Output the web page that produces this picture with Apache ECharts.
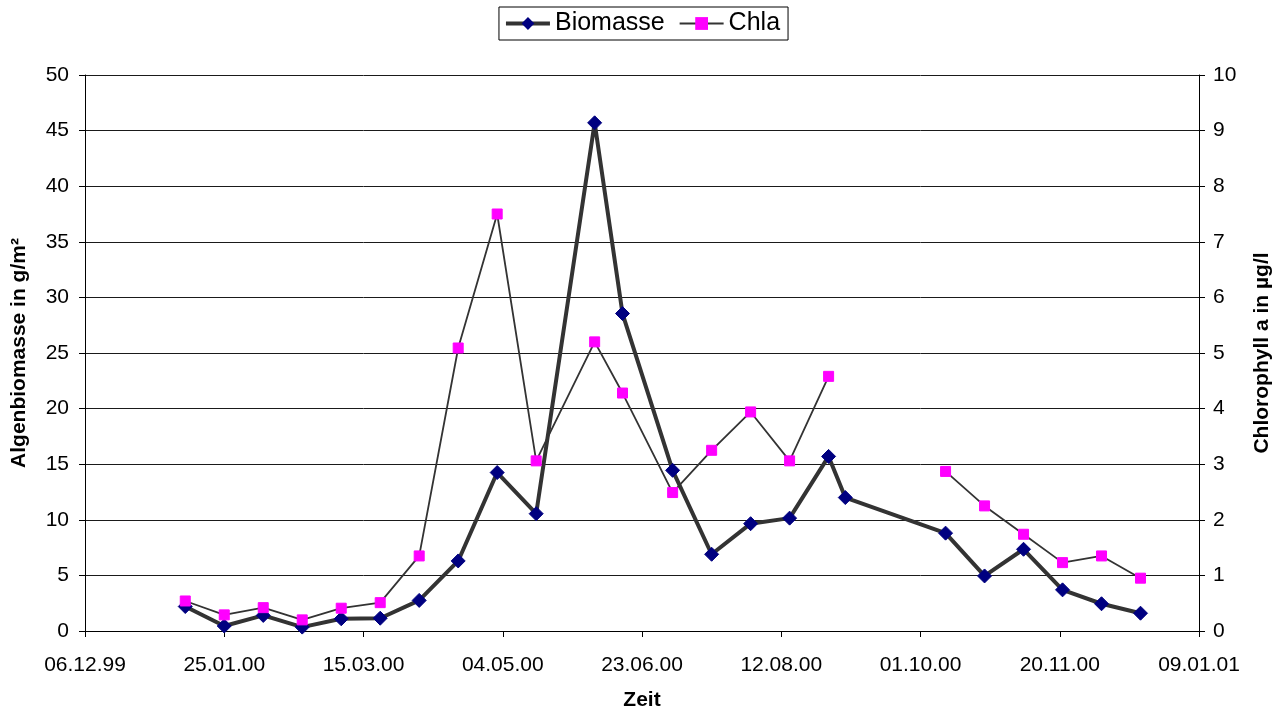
<!DOCTYPE html>
<html>
<head>
<meta charset="utf-8">
<script src="https://cdn.jsdelivr.net/npm/echarts@6/dist/echarts.min.js"></script>
<style>
html,body{margin:0;padding:0;background:#fff;}
#chart{width:1284px;height:713px;}
</style>
</head>
<body>
<div id="chart"></div>
<script>
// Sampling dates
const dates = ['2000-01-11','2000-01-25','2000-02-08','2000-02-22','2000-03-07','2000-03-21',
  '2000-04-04','2000-04-18','2000-05-02','2000-05-16','2000-06-06','2000-06-16',
  '2000-07-04','2000-07-18','2000-08-01','2000-08-15','2000-08-29','2000-09-04',
  '2000-10-10','2000-10-24','2000-11-07','2000-11-21','2000-12-05','2000-12-19'];
// Algenbiomasse in g/m²
const biomasse = [2.2, 0.45, 1.4, 0.35, 1.1, 1.15, 2.75, 6.3, 14.25, 10.55, 45.7, 28.55,
  14.45, 6.9, 9.65, 10.15, 15.7, 12.0, 8.8, 4.95, 7.35, 3.7, 2.45, 1.6];
// Chlorophyll a in µg/l
const chla = [0.54, 0.29, 0.42, 0.2, 0.41, 0.51, 1.35, 5.09, 7.5, 3.06, 5.2, 4.28,
  2.49, 3.25, 3.94, 3.06, 4.58, null, 2.87, 2.25, 1.74, 1.23, 1.35, 0.95];
// x-axis: days counted from 06.12.1999, ticks every 50 days
const axisStart = '1999-12-06';
const axisDays = 400;
const tickStepDays = 50;

const DAY = 86400000;
function toUTC(s){ const p = s.split('-').map(Number); return Date.UTC(p[0], p[1]-1, p[2]); }
const base = toUTC(axisStart);
function dayOf(s){ return Math.round((toUTC(s) - base) / DAY); }
function fmt(d){
  const dt = new Date(base + d * DAY);
  const dd = String(dt.getUTCDate()).padStart(2,'0');
  const mm = String(dt.getUTCMonth()+1).padStart(2,'0');
  const yy = String(dt.getUTCFullYear() % 100).padStart(2,'0');
  return dd + '.' + mm + '.' + yy;
}
const bioData = dates.map((d,i) => [dayOf(d), biomasse[i]]);
const chlaData = dates.map((d,i) => [dayOf(d), chla[i]]);

const font = 'Liberation Sans, Arial, sans-serif';
const tickFont = 21;
const titleFont = 21;
const chart = echarts.init(document.getElementById('chart'), null, {renderer:'canvas'});
chart.setOption({
  animation: false,
  backgroundColor: '#ffffff',
  textStyle: {fontFamily: font, color: '#000'},
  legend: {
    top: 7,
    left: 'center',
    padding: [4, 8, 4, 5],
    borderColor: '#000',
    borderWidth: 1,
    itemWidth: 44,
    itemHeight: 16,
    itemGap: 14,
    textStyle: {fontFamily: font, fontSize: 25, color: '#000'},
    data: [
      {name: 'Biomasse', lineStyle: {color: '#333333', width: 4}, itemStyle: {color: '#000080'}},
      {name: 'Chla', lineStyle: {color: '#333333', width: 1.8}, itemStyle: {color: '#ff00ff'}}
    ]
  },
  grid: {left: 85, right: 85, top: 75, bottom: 82, containLabel: false, outerBoundsMode: 'none'},
  xAxis: {
    type: 'value',
    min: 0, max: axisDays, interval: tickStepDays,
    name: 'Zeit', nameLocation: 'middle', nameGap: 59,
    nameTextStyle: {fontFamily: font, fontSize: titleFont, fontWeight: 'bold', color: '#000'},
    axisLine: {show: true, onZero: false, lineStyle: {color: '#000', width: 1}},
    axisTick: {show: true, inside: false, length: 6, lineStyle: {color: '#000'}},
    axisLabel: {fontFamily: font, fontSize: tickFont, color: '#000', margin: 24, formatter: v => fmt(v)},
    splitLine: {show: false}
  },
  yAxis: [{
    type: 'value', position: 'left',
    min: 0, max: 50, interval: 5,
    name: 'Algenbiomasse in g/m²', nameLocation: 'middle', nameGap: 55, nameRotate: 90,
    nameTextStyle: {fontFamily: font, fontSize: titleFont, fontWeight: 'bold', color: '#000'},
    axisLine: {show: true, lineStyle: {color: '#000', width: 1}},
    axisTick: {show: true, inside: false, length: 6, lineStyle: {color: '#000'}},
    axisLabel: {fontFamily: font, fontSize: tickFont, color: '#000', margin: 16},
    splitLine: {show: true, lineStyle: {color: '#1a1a1a', width: 1}}
  }, {
    type: 'value', position: 'right',
    min: 0, max: 10, interval: 1,
    name: 'Chlorophyll a in µg/l', nameLocation: 'middle', nameGap: 53, nameRotate: 90,
    nameTextStyle: {fontFamily: font, fontSize: titleFont, fontWeight: 'bold', color: '#000'},
    axisLine: {show: true, lineStyle: {color: '#000', width: 1}},
    axisTick: {show: true, inside: false, length: 6, lineStyle: {color: '#000'}},
    axisLabel: {fontFamily: font, fontSize: tickFont, color: '#000', margin: 14},
    splitLine: {show: false}
  }],
  series: [{
    name: 'Biomasse', type: 'line', yAxisIndex: 0,
    data: bioData,
    symbol: 'diamond', symbolSize: 14,
    itemStyle: {color: '#000080', borderColor: '#000080'},
    lineStyle: {color: '#333333', width: 4},
    z: 2
  }, {
    name: 'Chla', type: 'line', yAxisIndex: 1,
    data: chlaData,
    connectNulls: false,
    symbol: 'rect', symbolSize: 10,
    itemStyle: {color: '#ff00ff', borderColor: '#ff00ff'},
    lineStyle: {color: '#333333', width: 1.8},
    z: 3
  }]
});
</script>
</body>
</html>
